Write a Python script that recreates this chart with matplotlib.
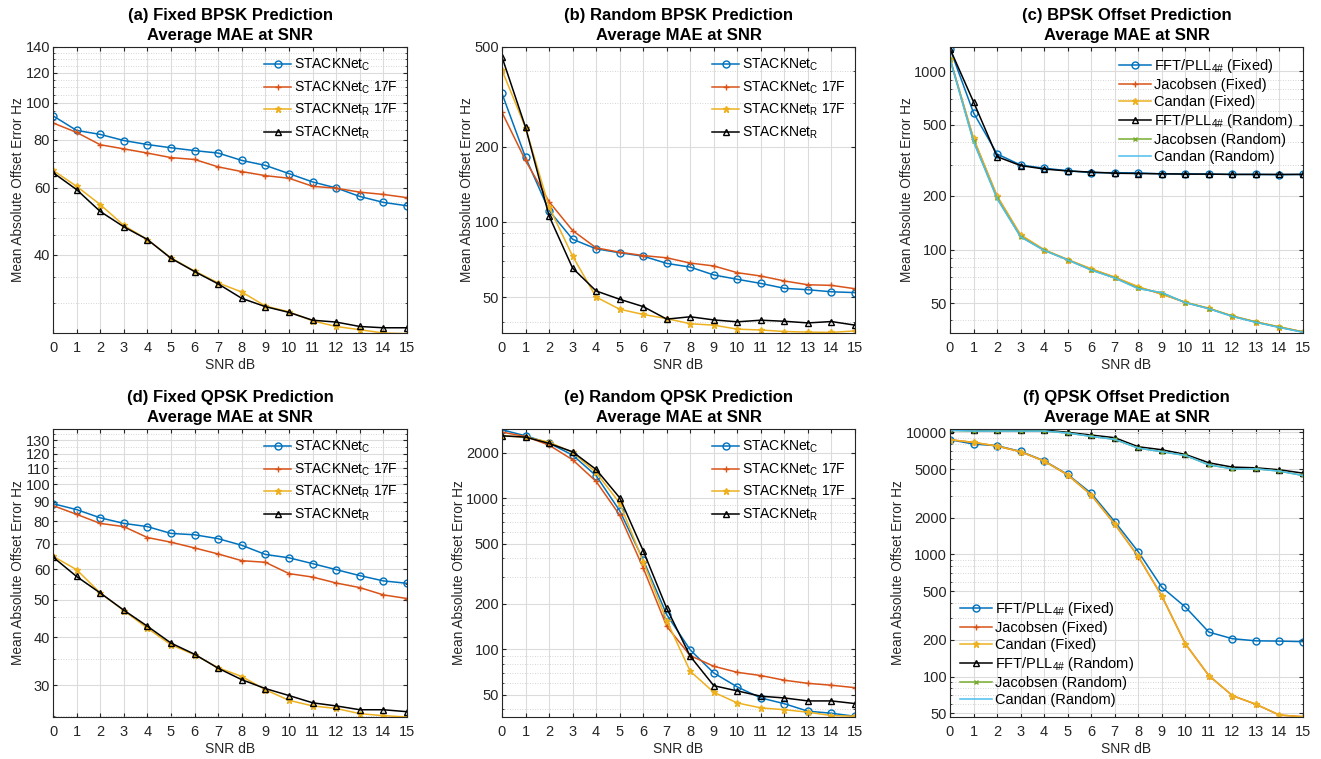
#!/usr/bin/env python3
"""
Average MAE at SNR - BPSK / QPSK offset prediction comparison (6 panels)
"""

import numpy as np
import matplotlib
matplotlib.use('Agg')
import matplotlib.pyplot as plt
from matplotlib.ticker import FixedLocator, NullFormatter

plt.rcParams['font.family'] = ['Liberation Sans', 'DejaVu Sans']
plt.rcParams['mathtext.fontset'] = 'custom'
plt.rcParams['mathtext.rm'] = 'Liberation Sans'
plt.rcParams['mathtext.it'] = 'Liberation Sans'

# MATLAB default colours
BLUE = '#0072BD'
RED = '#D95319'
YELLOW = '#EDB120'
GREEN = '#77AC30'
CYAN = '#4DBEEE'
BLACK = '#000000'

snr = list(range(16))

# (a) Fixed BPSK
a_c = [92.5, 84.7, 82.7, 79.7, 77.8, 76.3, 75.0, 73.9, 70.7, 68.6, 65.3, 62.1, 59.9, 56.9, 54.9, 53.8]
a_c17 = [88.6, 83.7, 77.7, 75.8, 73.9, 71.9, 71.1, 68.0, 66.1, 64.5, 63.5, 60.5, 59.8, 58.4, 57.6, 56.5]
a_r17 = [66.6, 60.5, 54.2, 47.8, 43.9, 39.3, 36.3, 33.8, 32.0, 29.4, 28.4, 26.9, 26.0, 25.5, 25.0, 24.9]
a_r = [65.7, 59.3, 52.0, 47.4, 43.9, 39.2, 36.2, 33.6, 30.8, 29.3, 28.3, 27.0, 26.7, 26.0, 25.8, 25.8]

# (b) Random BPSK
b_c = [326, 181, 111, 85.3, 78.1, 75.3, 73.0, 68.3, 66.0, 61.4, 59.0, 56.8, 54.3, 53.6, 52.6, 52.2]
b_c17 = [274, 176, 120.5, 92.4, 78.8, 75.7, 73.4, 71.9, 68.5, 66.7, 62.7, 60.8, 58.1, 56.1, 55.8, 54.1]
b_r17 = [404, 238, 115, 73.0, 50.1, 44.8, 42.7, 41.1, 39.2, 38.7, 37.3, 37.0, 36.5, 36.3, 36.2, 36.7]
b_r = [456, 239, 105.7, 65.4, 53.0, 49.1, 45.9, 40.9, 41.8, 40.6, 39.9, 40.5, 40.1, 39.5, 40.0, 38.7]

# (c) BPSK offset estimators
c_fft_fix = [1339, 585, 344, 298, 286, 277, 270, 270, 269, 266, 266, 265, 264, 264, 263, 264]
c_jac_fix = [1180, 418, 199, 120, 99.5, 87.6, 77.6, 69.8, 61.5, 56.3, 50.5, 46.7, 42.3, 39.2, 36.7, 34.5]
c_can_fix = [1177, 420, 200, 121, 99.8, 87.9, 78.0, 70.0, 61.9, 56.1, 50.6, 46.8, 42.4, 39.3, 36.8, 34.5]
c_fft_rnd = [1339, 674, 332, 296, 283, 276, 272, 268, 267, 266, 265, 265, 264, 264, 264, 264]
c_jac_rnd = [1175, 405, 194, 118, 99.0, 87.5, 76.8, 69.3, 60.5, 57.2, 50.4, 46.6, 42.2, 39.1, 36.6, 34.4]
c_can_rnd = [1174, 403, 193, 117.7, 98.8, 87.4, 76.6, 69.2, 60.3, 57.3, 50.3, 46.5, 42.1, 39.0, 36.5, 34.3]

# (d) Fixed QPSK
d_c = [88.9, 85.8, 81.7, 79.0, 77.5, 74.4, 73.8, 72.1, 69.3, 65.6, 64.3, 62.1, 59.9, 57.8, 56.0, 55.2]
d_c17 = [87.9, 83.4, 79.0, 77.5, 72.6, 70.6, 68.2, 65.8, 63.2, 62.6, 58.5, 57.3, 55.3, 53.8, 51.5, 50.4]
d_r17 = [64.9, 59.9, 52.1, 46.9, 42.2, 38.2, 36.0, 33.3, 31.6, 29.2, 27.4, 26.5, 26.1, 25.3, 25.0, 24.8]
d_r = [64.6, 57.5, 52.1, 47.0, 42.7, 38.6, 36.1, 33.2, 31.0, 29.4, 28.2, 27.0, 26.5, 25.9, 25.9, 25.6]

# (e) Random QPSK
e_c = [2849, 2600, 2325, 1936, 1414, 829, 392, 169.7, 99.0, 69.7, 56.3, 47.6, 43.6, 38.9, 37.7, 36.0]
e_c17 = [2750, 2572, 2255, 1803, 1296, 776, 346, 142, 90.8, 77.2, 70.4, 67.0, 62.4, 59.5, 57.8, 55.7]
e_r17 = [2600, 2548, 2361, 2017, 1486, 931, 381, 154.8, 71.5, 51.9, 44.1, 40.9, 39.8, 38.3, 36.4, 36.0]
e_r = [2600, 2548, 2314, 2037, 1556, 1010, 450, 186.8, 89.9, 57.4, 53.0, 48.9, 47.6, 45.5, 45.5, 43.7]

# (f) QPSK offset estimators
f_fft_fix = [8705, 8020, 7770, 6980, 5850, 4517, 3171, 1856, 1052, 539, 371, 231, 204, 196, 195, 193]
f_jac_fix = [8700, 8270, 7715, 6935, 5815, 4485, 3070, 1772, 961, 456, 185.3, 101.7, 69.7, 59.2, 48.3, 46.8]
f_can_fix = [8705, 8275, 7720, 6940, 5820, 4490, 3074, 1775, 963, 457, 185.6, 101.9, 69.8, 59.3, 48.4, 46.8]
f_fft_rnd = [10514, 10384, 10514, 10384, 10450, 10000, 9506, 9037, 7620, 7202, 6596, 5632, 5190, 5123, 4935, 4632]
f_jac_rnd = [10384, 10250, 10250, 10250, 10250, 9874, 9270, 8760, 7430, 6940, 6470, 5420, 5025, 5025, 4815, 4432]
f_can_rnd = [10380, 10245, 10245, 10245, 10245, 9870, 9265, 8755, 7425, 6935, 6465, 5415, 5020, 5020, 4810, 4428]

STACK_LABELS = [r'STACKNet$_\mathrm{C}$', r'STACKNet$_\mathrm{C}$ 17F',
                r'STACKNet$_\mathrm{R}$ 17F', r'STACKNet$_\mathrm{R}$']
EST_LABELS = [r'FFT/PLL$_{4\#}$ (Fixed)', 'Jacobsen (Fixed)', 'Candan (Fixed)',
              r'FFT/PLL$_{4\#}$ (Random)', 'Jacobsen (Random)', 'Candan (Random)']

W, H = 1321, 759
TXT = '#262626'


def px_axes(fig, left, right, top, bottom):
    return fig.add_axes([left / W, 1 - bottom / H, (right - left) / W, (bottom - top) / H])


def style_axes(ax, title, ylim, yticks, minor):
    ax.set_yscale('log')
    ax.set_xlim(0, 15)
    ax.set_ylim(*ylim)
    ax.set_xticks(snr)
    ax.yaxis.set_major_locator(FixedLocator(yticks))
    ax.yaxis.set_minor_locator(FixedLocator(minor))
    ax.yaxis.set_minor_formatter(NullFormatter())
    ax.set_yticklabels([str(t) for t in yticks])
    ax.tick_params(which='both', direction='in', top=True, right=True,
                   labelsize=10.5, colors=TXT, length=3)
    ax.tick_params(axis='x', pad=6)
    ax.tick_params(axis='y', pad=2)
    ax.tick_params(which='minor', length=1.5)
    ax.grid(True, which='major', color='#dcdcdc', linewidth=0.8)
    ax.grid(True, which='minor', axis='y', color='#c8c8c8', linestyle=(0, (1, 2)), linewidth=0.6)
    ax.set_axisbelow(True)
    for s in ax.spines.values():
        s.set_color(TXT)
        s.set_linewidth(0.8)
    ax.set_title(title, fontsize=12, fontweight='bold', linespacing=1.4, pad=5)
    ax.set_xlabel('SNR dB', fontsize=10, color=TXT, labelpad=2)
    ax.set_ylabel('Mean Absolute Offset Error Hz', fontsize=9.8, color=TXT, labelpad=0.5)


def plot_stack(ax, c, c17, r17, r):
    ax.plot(snr, c, color=BLUE, marker='o', mfc='none', ms=5, lw=1.1, label=STACK_LABELS[0])
    ax.plot(snr, c17, color=RED, marker='+', ms=5, lw=1.1, label=STACK_LABELS[1])
    ax.plot(snr, r17, color=YELLOW, marker='*', ms=4.5, lw=1.1, label=STACK_LABELS[2])
    ax.plot(snr, r, color=BLACK, marker='^', mfc='none', ms=5, lw=1.1, label=STACK_LABELS[3])
    ax.legend(loc='upper right', frameon=False, fontsize=10, handlelength=2.0,
              labelspacing=0.45, borderaxespad=0.3, handletextpad=0.2)


def plot_est(ax, series, legend_loc):
    styles = [(BLUE, 'o', 'none'), (RED, '+', RED), (YELLOW, '*', YELLOW),
              (BLACK, '^', 'none'), (GREEN, 'x', GREEN), (CYAN, None, CYAN)]
    for vals, (col, mk, mfc), lab in zip(series, styles, EST_LABELS):
        ax.plot(snr, vals, color=col, marker=mk, mfc=mfc, ms=5 if mk != 'x' else 3.5,
                lw=1.1, label=lab)
    ax.legend(loc=legend_loc, frameon=False, fontsize=10.5, handlelength=2.2,
              labelspacing=0.2, borderaxespad=0.3, handletextpad=0.2)


def fives(lo, hi):
    return [v for v in range(lo, hi + 1, 5) if v % 20 != 0]


def log_minor(lo, hi):
    out = []
    dec = 1
    while dec <= hi:
        for k in range(2, 10):
            v = k * dec
            if lo <= v <= hi:
                out.append(v)
        dec *= 10
    return out


fig = plt.figure(figsize=(W / 100, H / 100), dpi=100)

ax_a = px_axes(fig, 53, 407, 47, 333)
plot_stack(ax_a, a_c, a_c17, a_r17, a_r)
style_axes(ax_a, '(a) Fixed BPSK Prediction\nAverage MAE at SNR', (25, 140),
           [40, 60, 80, 100, 120, 140], fives(25, 135))

ax_b = px_axes(fig, 502, 855, 47, 333)
plot_stack(ax_b, b_c, b_c17, b_r17, b_r)
style_axes(ax_b, '(b) Random BPSK Prediction\nAverage MAE at SNR', (36, 500),
           [50, 100, 200, 500], log_minor(36, 500))

ax_c = px_axes(fig, 950, 1303, 47, 333)
plot_est(ax_c, [c_fft_fix, c_jac_fix, c_can_fix, c_fft_rnd, c_jac_rnd, c_can_rnd], 'upper right')
style_axes(ax_c, '(c) BPSK Offset Prediction\nAverage MAE at SNR', (34, 1370),
           [50, 100, 200, 500, 1000], log_minor(34, 1370))

ax_d = px_axes(fig, 53, 407, 429, 717)
plot_stack(ax_d, d_c, d_c17, d_r17, d_r)
style_axes(ax_d, '(d) Fixed QPSK Prediction\nAverage MAE at SNR', (24.8, 139),
           [30, 40, 50, 60, 70, 80, 90, 100, 110, 120, 130],
           [v for v in range(25, 140, 5) if v % 10 != 0])

ax_e = px_axes(fig, 502, 855, 429, 717)
plot_stack(ax_e, e_c, e_c17, e_r17, e_r)
style_axes(ax_e, '(e) Random QPSK Prediction\nAverage MAE at SNR', (35.6, 2884),
           [50, 100, 200, 500, 1000, 2000], log_minor(35.6, 2884))

ax_f = px_axes(fig, 950, 1303, 429, 717)
plot_est(ax_f, [f_fft_fix, f_jac_fix, f_can_fix, f_fft_rnd, f_jac_rnd, f_can_rnd], 'lower left')
style_axes(ax_f, '(f) QPSK Offset Prediction\nAverage MAE at SNR', (46.6, 10650),
           [50, 100, 200, 500, 1000, 2000, 5000, 10000], log_minor(46.6, 10650))

fig.savefig('out.png', dpi=100, facecolor='white')
